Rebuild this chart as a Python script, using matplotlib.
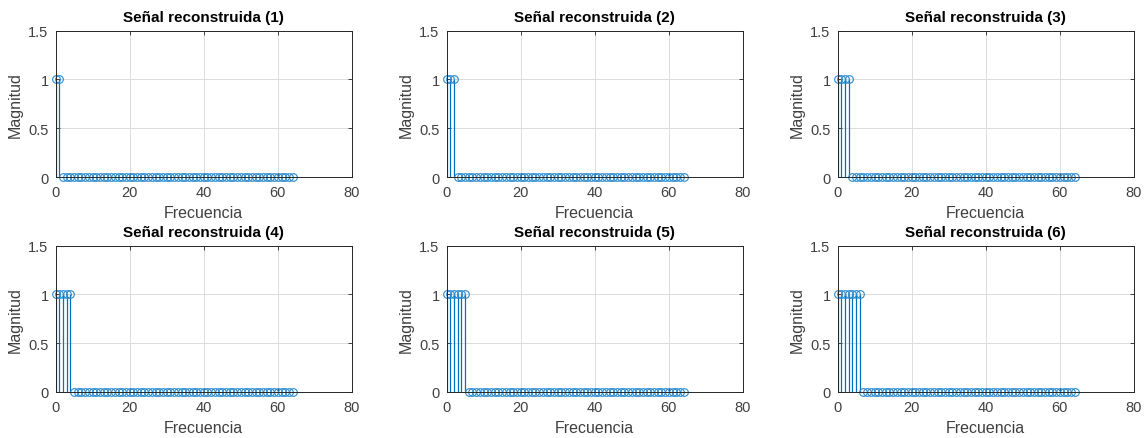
import matplotlib
matplotlib.use("Agg")
import matplotlib.pyplot as plt
import numpy as np

plt.rcParams['font.family'] = ['Liberation Sans', 'DejaVu Sans']

frecuencia = list(range(65))

senal_1 = [1, 1] + [0] * 63
senal_2 = [1, 1, 1] + [0] * 62
senal_3 = [1, 1, 1, 1] + [0] * 61
senal_4 = [1, 1, 1, 1, 1] + [0] * 60
senal_5 = [1, 1, 1, 1, 1, 1] + [0] * 59
senal_6 = [1, 1, 1, 1, 1, 1, 1] + [0] * 58

senales = [senal_1, senal_2, senal_3, senal_4, senal_5, senal_6]
titulos = ['Señal reconstruida (%d)' % i for i in range(1, 7)]

azul = '#0072BD'
gris = '#262626'
gris_txt = '#404040'

fig = plt.figure(figsize=(11.48, 4.39), dpi=100)

lefts = [55.5, 446.5, 837.5]
tops = [31.5, 246.5]
W, H = 296.5, 146.5
FW, FH = 1148, 439

for i, (y, t) in enumerate(zip(senales, titulos)):
    r, c = divmod(i, 3)
    ax = fig.add_axes([lefts[c] / FW, 1 - (tops[r] + H) / FH, W / FW, H / FH])
    markers, stems, base = ax.stem(frecuencia, y, linefmt='-', markerfmt='o', basefmt=' ')
    plt.setp(stems, color=azul, linewidth=0.9)
    plt.setp(markers, markerfacecolor='none', markeredgecolor='#2a8ad0',
             markersize=5.5, markeredgewidth=0.8)
    markers.set_clip_on(False)
    ax.set_xlim(0, 80)
    ax.set_ylim(0, 1.5)
    ax.set_xticks([0, 20, 40, 60, 80])
    ax.set_yticks([0, 0.5, 1, 1.5])
    ax.set_yticklabels(['0', '0.5', '1', '1.5'])
    ax.grid(True, color='#dcdcdc', linewidth=0.7)
    ax.set_axisbelow(True)
    ax.tick_params(direction='in', top=True, right=True, length=3,
                   width=0.6, colors=gris, labelsize=10.5, labelcolor=gris_txt)
    ax.tick_params(axis='x', pad=6)
    ax.tick_params(axis='y', pad=5)
    for s in ax.spines.values():
        s.set_color(gris)
        s.set_linewidth(0.7)
    ax.set_title(t, fontsize=11, fontweight='bold', color='black', pad=6.5)
    ax.set_xlabel('Frecuencia', fontsize=11.5, color=gris_txt, labelpad=4)
    ax.set_ylabel('Magnitud', fontsize=11.5, color=gris_txt, labelpad=4)

fig.savefig('out.png', dpi=100)
